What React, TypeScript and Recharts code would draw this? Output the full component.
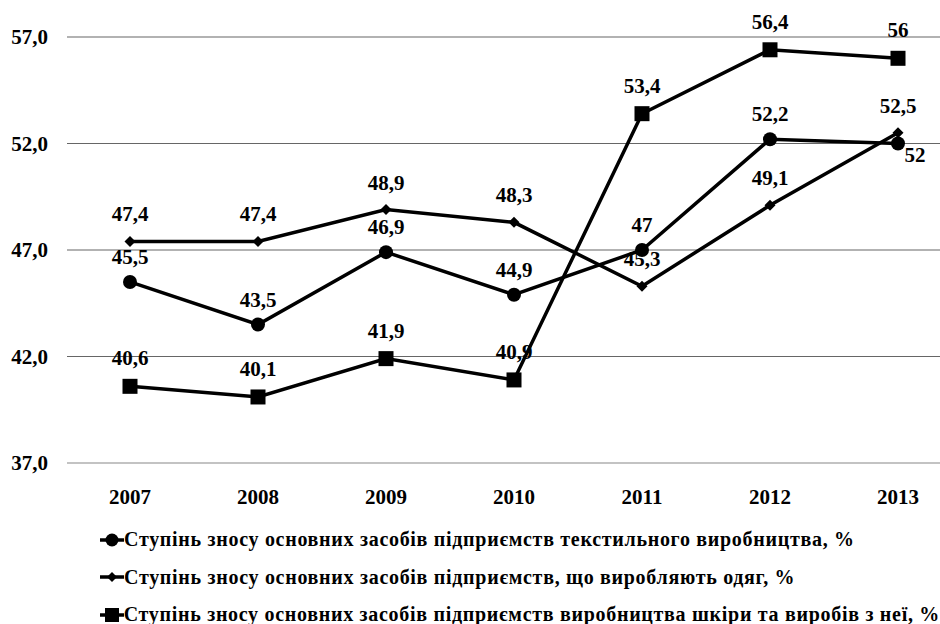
import React from "react";
import { LineChart, Line, XAxis, YAxis, CartesianGrid, ReferenceLine, LabelList, Legend } from "recharts";

const years = ["2007", "2008", "2009", "2010", "2011", "2012", "2013"];
const textile = [45.5, 43.5, 46.9, 44.9, 47, 52.2, 52];
const clothing = [47.4, 47.4, 48.9, 48.3, 45.3, 49.1, 52.5];
const leather = [40.6, 40.1, 41.9, 40.9, 53.4, 56.4, 56];
const yTicks = [37, 42, 47, 52, 57];
const seriesNames = [
  "Ступінь зносу основних засобів підприємств текстильного виробництва, %",
  "Ступінь зносу основних засобів підприємств, що виробляють одяг, %",
  "Ступінь зносу основних засобів підприємств виробництва шкіри та виробів з неї, %",
];

const data = years.map((y, i) => ({ year: y, textile: textile[i], clothing: clothing[i], leather: leather[i] }));

const FONT = "Liberation Serif, Times New Roman, DejaVu Serif, serif";
const fmt = (v: number) => String(v).replace(".", ",");

const Circle = (p: any) => <circle cx={p.cx} cy={p.cy} r={7} fill="#000" />;
const Diamond = (p: any) => (
  <path d={`M${p.cx},${p.cy - 5.5} L${p.cx + 5.5},${p.cy} L${p.cx},${p.cy + 5.5} L${p.cx - 5.5},${p.cy} Z`} fill="#000" />
);
const Square = (p: any) => <rect x={p.cx - 7.5} y={p.cy - 7.5} width={15} height={15} fill="#000" />;

const makeLabel = (lift: number, series: string) => (p: any) => {
  const { x, y, value, index } = p;
  let tx = x;
  let ty = y - lift;
  if (series === "textile" && index === 6) {
    tx = x + 17;
    ty = y + 18;
  }
  return (
    <text x={tx} y={ty} textAnchor="middle" style={{ fontFamily: FONT, fontWeight: 700, fontSize: 21 }} fill="#000">
      {fmt(value)}
    </text>
  );
};

const markerFor = (i: number) => {
  if (i === 0) return <circle cx={12} cy={10} r={6.5} fill="#000" />;
  if (i === 1) return <path d="M12,5 L17,10 L12,15 L7,10 Z" fill="#000" />;
  return <rect x={5} y={3} width={14} height={14} fill="#000" />;
};

const LegendContent = () => (
  <div style={{ width: 940 }}>
    {seriesNames.map((n, i) => (
      <div key={i} style={{ display: "flex", alignItems: "center", height: 37.5, paddingLeft: 100 }}>
        <svg width={24} height={20} style={{ marginRight: 0 }}>
          <line x1={0} y1={10} x2={24} y2={10} stroke="#000" strokeWidth={3.5} />
          {markerFor(i)}
        </svg>
        <span style={{ fontFamily: FONT, fontWeight: 700, fontSize: 20, letterSpacing: 0.7, color: "#000", whiteSpace: "nowrap" }}>{n}</span>
      </div>
    ))}
  </div>
);

const tickStyle = { fontFamily: FONT, fontWeight: 700, fontSize: 21, fill: "#000" };

export default function App() {
  return (
    <div style={{ position: "absolute", left: 0, top: 0, width: 940, height: 624, background: "#fff", fontFamily: FONT }}>
      <LineChart width={940} height={624} data={data} margin={{ top: 37, right: 0, left: 0, bottom: 131 }}>
        <CartesianGrid vertical={false} stroke="#666666" strokeWidth={1.2} />
        <ReferenceLine y={37} stroke="#c8c8c8" strokeWidth={1.5} />
        <XAxis
          dataKey="year"
          axisLine={false}
          tickLine={false}
          tickSize={0}
          tickMargin={26}
          height={30}
          padding={{ left: 63, right: 42 }}
          tick={tickStyle}
          interval={0}
        />
        <YAxis
          domain={[37, 57]}
          ticks={yTicks}
          width={67}
          axisLine={false}
          tickLine={false}
          tickSize={0}
          tickMargin={19}
          tickFormatter={(v: number) => v.toFixed(1).replace(".", ",")}
          tick={tickStyle}
        />
        <Legend layout="horizontal" verticalAlign="middle" align="center" wrapperStyle={{ top: 521, left: 0, width: 940 }} content={<LegendContent />} />
        <Line dataKey="textile" name={seriesNames[0]} stroke="#000" strokeWidth={3.5} dot={<Circle />} isAnimationActive={false}>
          <LabelList dataKey="textile" content={makeLabel(18, "textile")} />
        </Line>
        <Line dataKey="clothing" name={seriesNames[1]} stroke="#000" strokeWidth={3.5} dot={<Diamond />} isAnimationActive={false}>
          <LabelList dataKey="clothing" content={makeLabel(20, "clothing")} />
        </Line>
        <Line dataKey="leather" name={seriesNames[2]} stroke="#000" strokeWidth={3.5} dot={<Square />} isAnimationActive={false}>
          <LabelList dataKey="leather" content={makeLabel(21, "leather")} />
        </Line>
      </LineChart>
    </div>
  );
}
